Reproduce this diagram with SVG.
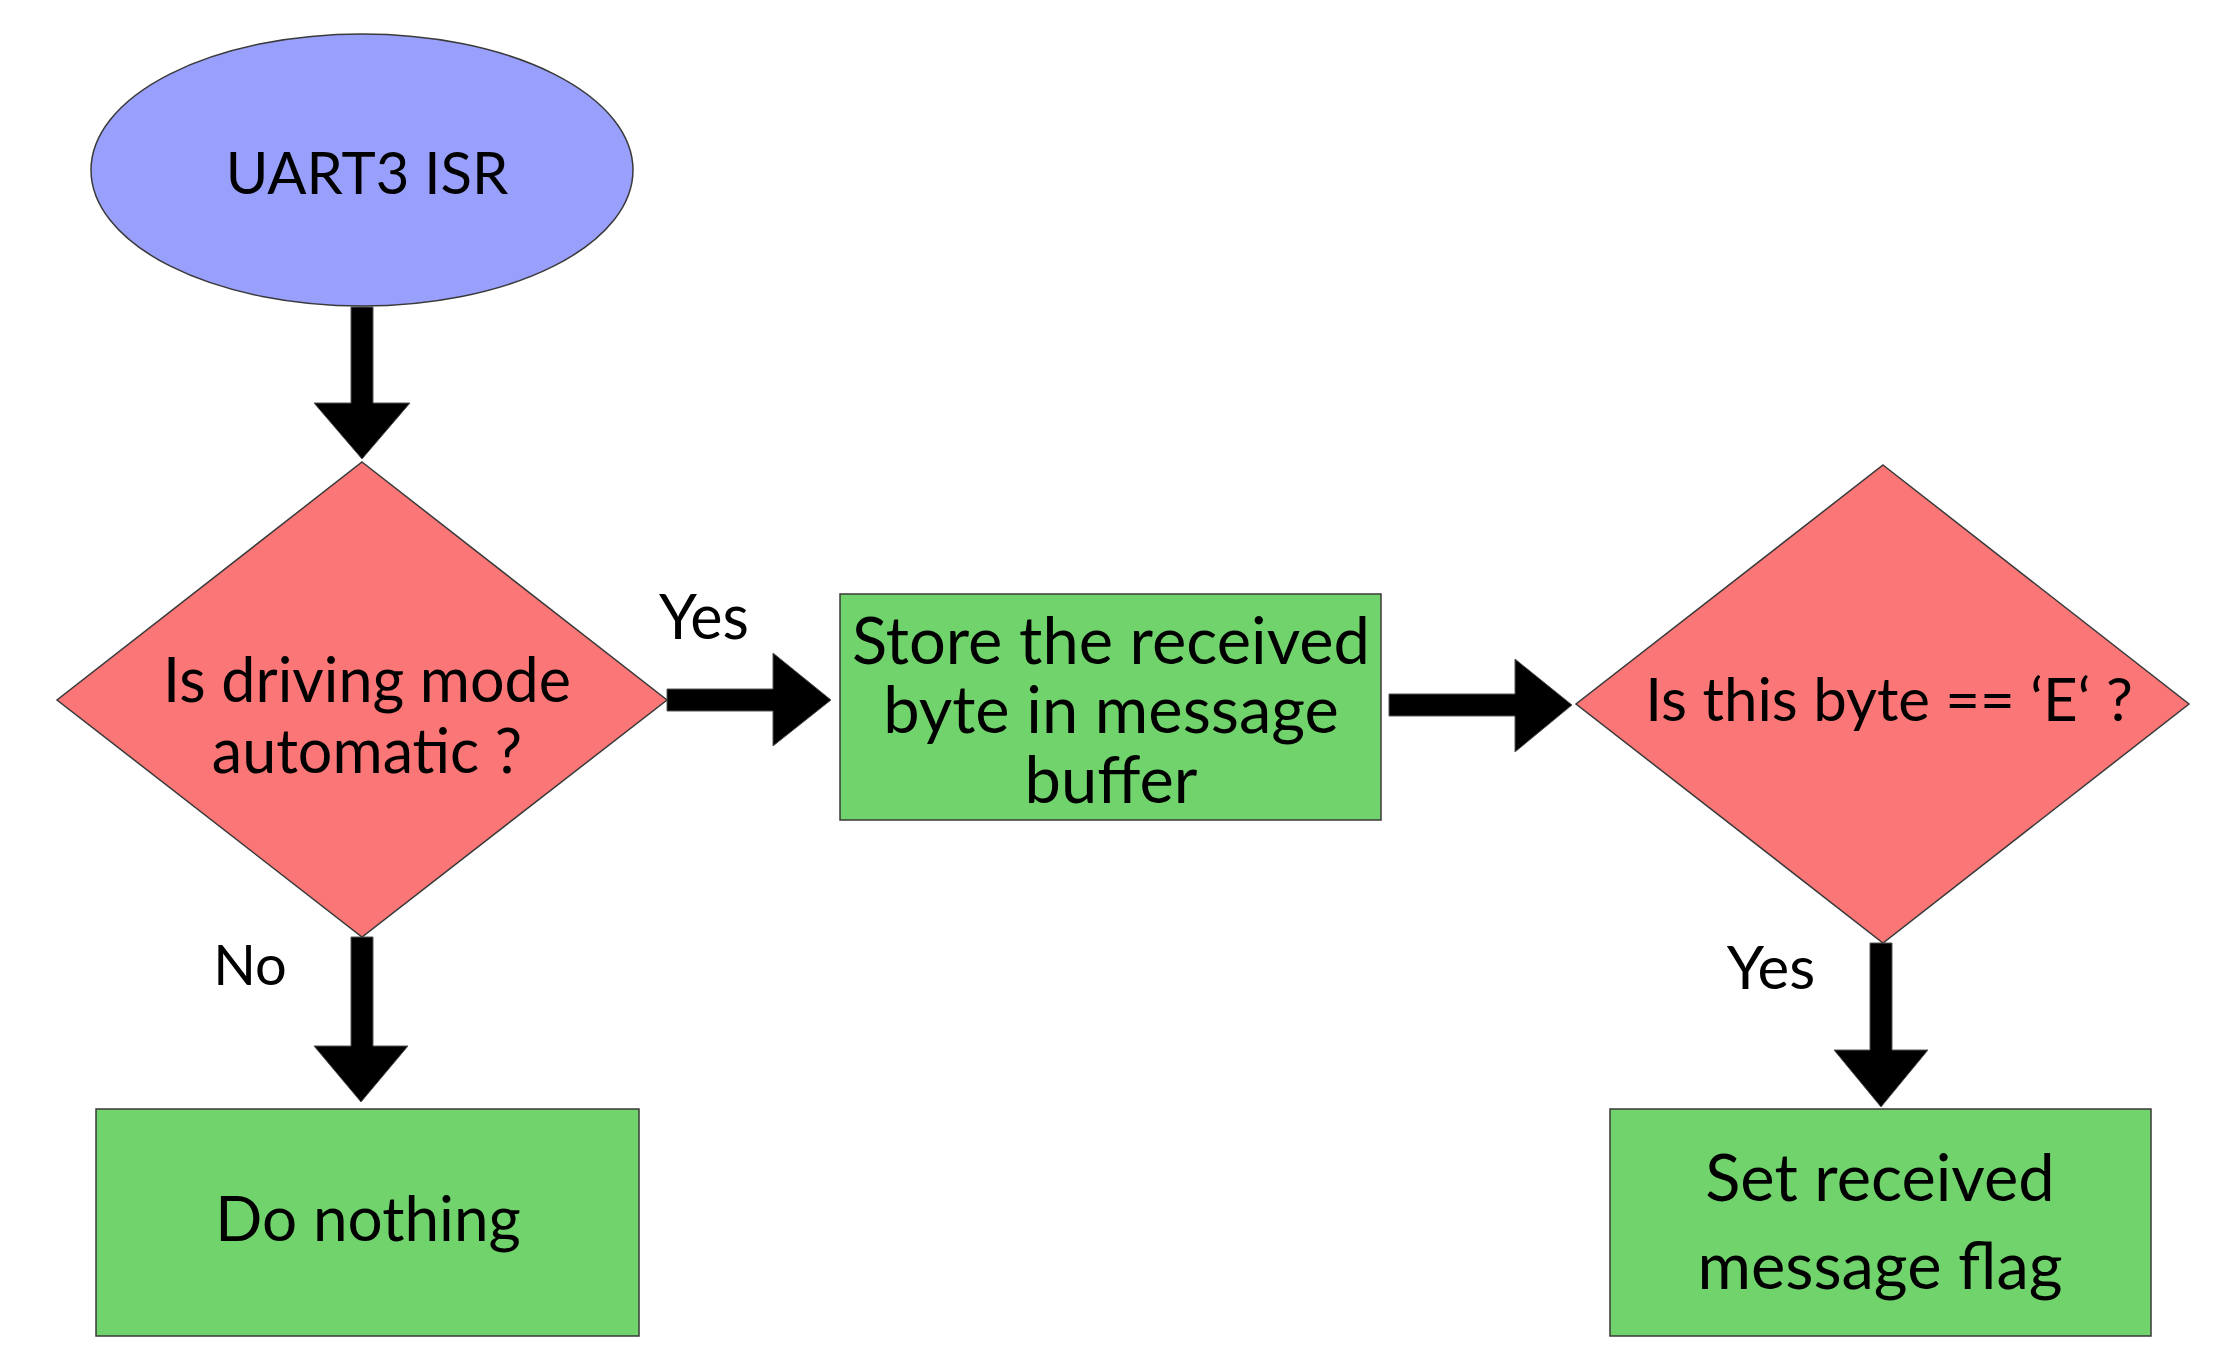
<svg xmlns="http://www.w3.org/2000/svg" width="2216" height="1361" viewBox="0 0 2216 1361">
<style>
.ell{fill:#98a0fc;stroke:#3a3a3a;stroke-width:1.5}
.dia{fill:#fb7676;stroke:#3a3a3a;stroke-width:1.5}
.box{fill:#71d36b;stroke:#3a3a3a;stroke-width:1.5}
.arr{fill:#000;stroke:#555;stroke-width:1}
text{font-family:Lato,"Open Sans","Liberation Sans",sans-serif;fill:#000;text-anchor:middle}
.t{font-size:62px}
.tb{font-size:65px}
.lbl{font-size:56px}
</style>
<rect width="2216" height="1361" fill="#fff"/>
<g id="connectors">
<polygon class="arr" points="351,307 373,307 373,403 410,403 362,459 314,403 351,403"/>
<polygon class="arr" points="667,689 773,689 773,653 831,700 773,746 773,711 667,711"/>
<polygon class="arr" points="1389,694 1515,694 1515,659 1572,705 1515,752 1515,716 1389,716"/>
<polygon class="arr" points="351,937 373,937 373,1046 408,1046 361,1102 314,1046 351,1046"/>
<polygon class="arr" points="1870,943 1892,943 1892,1050 1928,1050 1881,1107 1834,1050 1870,1050"/>
<text class="lbl" x="704" y="639" style="font-size:61px">Yes</text>
<text class="lbl" x="250" y="985">No</text>
<text class="lbl" x="1771" y="989" style="font-size:60px">Yes</text>
</g>
<g id="start">
<ellipse class="ell" cx="362" cy="170" rx="271" ry="136"/>
<text class="t" x="367" y="194" style="font-size:58px">UART3 ISR</text>
</g>
<g id="decision1">
<polygon class="dia" points="362,462 667,700 362,937 57,700"/>
<text class="t" x="367" y="702" style="font-size:61px">Is driving mode</text>
<text class="t" x="367" y="773" style="font-size:61px">automatic ?</text>
</g>
<g id="store">
<rect class="box" x="840" y="594" width="541" height="226"/>
<text class="tb" x="1111" y="664">Store the received</text>
<text class="tb" x="1111" y="733">byte in message</text>
<text class="tb" x="1111" y="803">buffer</text>
</g>
<g id="decision2">
<polygon class="dia" points="1883,465 2189,704 1883,943 1576,704"/>
<text class="t" x="1889" y="721" style="font-size:60px">Is this byte == ‘E‘ ?</text>
</g>
<g id="nothing">
<rect class="box" x="96" y="1109" width="543" height="227"/>
<text class="t" x="368" y="1241">Do nothing</text>
</g>
<g id="flag">
<rect class="box" x="1610" y="1109" width="541" height="227"/>
<text class="tb" x="1880" y="1201">Set received</text>
<text class="tb" x="1880" y="1289">message flag</text>
</g>
</svg>
